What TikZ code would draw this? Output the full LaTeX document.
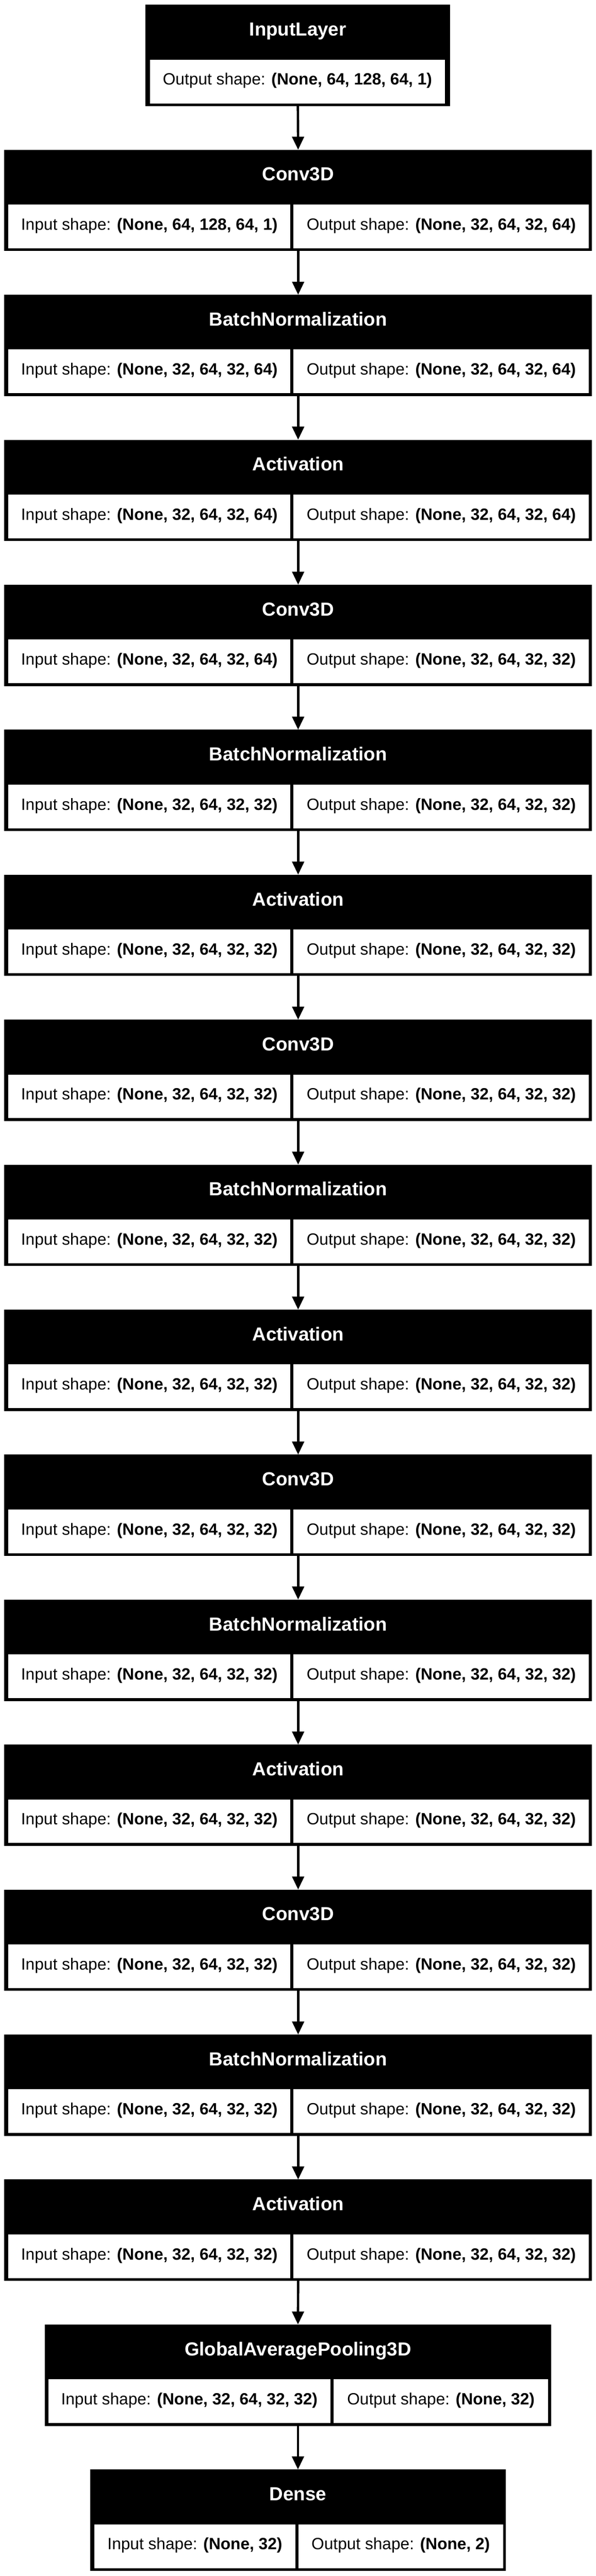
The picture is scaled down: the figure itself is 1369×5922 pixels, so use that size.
\documentclass[tikz,border=0pt]{standalone}
\usepackage{fontspec}
\setmainfont{Liberation Sans}
\usetikzlibrary{arrows.meta}
\newcommand\lfont{\fontsize{37.5pt}{45pt}\selectfont}
\newcommand\hfont{\fontsize{43.5pt}{52pt}\selectfont\bfseries}
\newcommand\setgeom[6]{\def\oL{#1}\def\oR{#2}\def\aL{#3}\def\aR{#4}\def\bL{#5}\def\bR{#6}}
\tikzset{
  outerbox/.style={draw=none, fill=black, inner sep=0pt, outer sep=0pt, anchor=north west, minimum height=233pt},
  cellbox/.style={draw=none, fill=white, inner sep=0pt, outer sep=0pt, anchor=north west, text height=58.4pt, text depth=42.1pt, font=\lfont, text=black},
  titletext/.style={text=white, inner sep=0pt, outer sep=0pt, anchor=base, font=\hfont},
  conn/.style={line width=5.5pt, draw=black, -{Triangle[length=30pt,width=27pt]}},
}
\newcommand\layerone[4]{% name, top, title, output
  \node[outerbox, minimum width={\oR-\oL}] (#1) at (\oL,#2) {};
  \node[titletext] (#1t) at ({(\oL+\oR)/2},{#2+71.4}) {#3};
  \node[cellbox, minimum width={\aR-\aL}] (#1o) at (\aL,{#2+126}) {Output shape: \textbf{#4}};
}
\newcommand\layertwo[5]{% name, top, title, input, output
  \node[outerbox, minimum width={\oR-\oL}] (#1) at (\oL,#2) {};
  \node[titletext] (#1t) at ({(\oL+\oR)/2},{#2+71.4}) {#3};
  \node[cellbox, minimum width={\aR-\aL}] (#1i) at (\aL,{#2+126}) {Input shape: \textbf{#4}};
  \node[cellbox, minimum width={\bR-\bL}] (#1o) at (\bL,{#2+126}) {Output shape: \textbf{#5}};
}
\begin{document}
\begin{tikzpicture}[x=1pt, y=-1pt]
\fill[white] (0,0) rectangle (1369,5922);
\useasboundingbox (0,0) rectangle (1369,5922);
% input layer
\setgeom{334.3}{1034.3}{344.3}{1022.3}{0}{0}
\layerone{L0}{11}{InputLayer}{(None, 64, 128, 64, 1)}
% full-width layers
\setgeom{9.8}{1360}{19.5}{666.7}{674.5}{1353}
\layertwo{L1}{344.3}{Conv3D}{(None, 64, 128, 64, 1)}{(None, 32, 64, 32, 64)}
\layertwo{L2}{677.6}{BatchNormalization}{(None, 32, 64, 32, 64)}{(None, 32, 64, 32, 64)}
\layertwo{L3}{1010.9}{Activation}{(None, 32, 64, 32, 64)}{(None, 32, 64, 32, 64)}
\layertwo{L4}{1344.2}{Conv3D}{(None, 32, 64, 32, 64)}{(None, 32, 64, 32, 32)}
\layertwo{L5}{1677.5}{BatchNormalization}{(None, 32, 64, 32, 32)}{(None, 32, 64, 32, 32)}
\layertwo{L6}{2010.8}{Activation}{(None, 32, 64, 32, 32)}{(None, 32, 64, 32, 32)}
\layertwo{L7}{2344.1}{Conv3D}{(None, 32, 64, 32, 32)}{(None, 32, 64, 32, 32)}
\layertwo{L8}{2677.4}{BatchNormalization}{(None, 32, 64, 32, 32)}{(None, 32, 64, 32, 32)}
\layertwo{L9}{3010.7}{Activation}{(None, 32, 64, 32, 32)}{(None, 32, 64, 32, 32)}
\layertwo{L10}{3344.0}{Conv3D}{(None, 32, 64, 32, 32)}{(None, 32, 64, 32, 32)}
\layertwo{L11}{3677.3}{BatchNormalization}{(None, 32, 64, 32, 32)}{(None, 32, 64, 32, 32)}
\layertwo{L12}{4010.6}{Activation}{(None, 32, 64, 32, 32)}{(None, 32, 64, 32, 32)}
\layertwo{L13}{4343.9}{Conv3D}{(None, 32, 64, 32, 32)}{(None, 32, 64, 32, 32)}
\layertwo{L14}{4677.2}{BatchNormalization}{(None, 32, 64, 32, 32)}{(None, 32, 64, 32, 32)}
\layertwo{L15}{5010.5}{Activation}{(None, 32, 64, 32, 32)}{(None, 32, 64, 32, 32)}
% global average pooling
\setgeom{102.7}{1266.3}{111}{759}{766.7}{1259}
\layertwo{L16}{5343.8}{GlobalAveragePooling3D}{(None, 32, 64, 32, 32)}{(None, 32)}
% dense
\setgeom{207.3}{1161.7}{216.7}{678.7}{685.6}{1155.6}
\layertwo{L17}{5677.1}{Dense}{(None, 32)}{(None, 2)}
% connectors
\foreach \i [evaluate=\i as \j using int(\i+1)] in {0,...,16}
  \draw[conn] (L\i.south) -- (L\j.north);
\end{tikzpicture}
\end{document}
